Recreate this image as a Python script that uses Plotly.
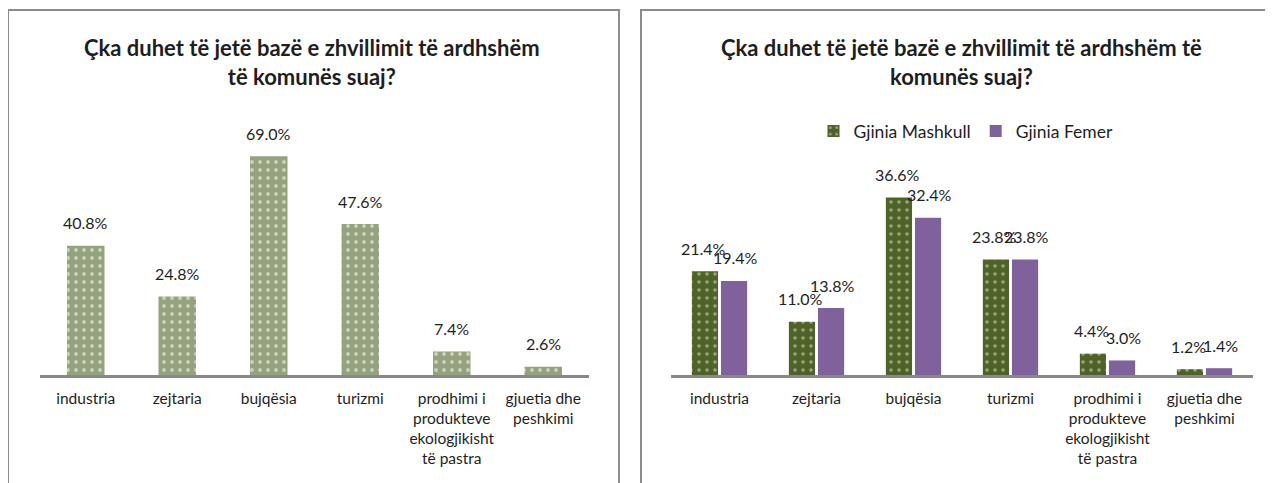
import plotly.graph_objects as go

# Categories and values
categories = [
    "industria",
    "zejtaria",
    "bujqësia",
    "turizmi",
    "prodhimi i<br>produkteve<br>ekologjikisht<br>të pastra",
    "gjuetia dhe<br>peshkimi",
]
total_pct = [40.8, 24.8, 69.0, 47.6, 7.4, 2.6]
male_pct = [21.4, 11.0, 36.6, 23.8, 4.4, 1.2]
female_pct = [19.4, 13.8, 32.4, 23.8, 3.0, 1.4]
series_names = ["Gjinia Mashkull", "Gjinia Femer"]

title_left = "<b>Çka duhet të jetë bazë e zhvillimit të ardhshëm<br>të komunës suaj?</b>"
title_right = "<b>Çka duhet të jetë bazë e zhvillimit të ardhshëm të<br>komunës suaj?</b>"

# the page body has an 8px margin, so the figure is drawn 8px smaller
OFF = 8
W, H = 1273 - OFF, 483 - OFF
FONT = "Lato, Carlito, Calibri, sans-serif"
TXT = "#1e1e1e"


def px_x(x):
    return (x - OFF) / W


def px_y(y):
    return (H - (y - OFF)) / H


fig = go.Figure()

# left chart: all answers (narrower bars than the grouped chart)
fig.add_trace(go.Bar(
    x=categories, y=total_pct, xaxis="x", yaxis="y", width=0.41,
    marker=dict(color="#95a27e", line=dict(width=0),
                pattern=dict(shape=".", bgcolor="#95a27e", fgcolor="#ffffff",
                             size=8, solidity=0.18)),
    showlegend=False, hoverinfo="skip",
))

# right chart: split by gender
fig.add_trace(go.Bar(
    x=categories, y=male_pct, xaxis="x2", yaxis="y2", name=series_names[0],
    marker=dict(color="#4f6228", line=dict(width=0),
                pattern=dict(shape=".", bgcolor="#4f6228", fgcolor="#e8ecdc",
                             size=8, solidity=0.15)),
    hoverinfo="skip",
))
fig.add_trace(go.Bar(
    x=categories, y=female_pct, xaxis="x2", yaxis="y2", name=series_names[1],
    marker=dict(color="#7f619c", line=dict(width=0)),
    hoverinfo="skip",
))

# value labels, placed above each bar
labels = []
lab_font = dict(size=16, color=TXT, family=FONT)
for c, v in zip(categories, total_pct):
    labels.append(dict(x=c, y=v, xref="x", yref="y", text=f"{v:.1f}%",
                       showarrow=False, yanchor="middle", yshift=23, font=lab_font))
for vals, shift in [(male_pct, -16), (female_pct, 16)]:
    for c, v in zip(categories, vals):
        labels.append(dict(x=c, y=v, xref="x2", yref="y2", text=f"{v:.1f}%",
                           showarrow=False, yanchor="middle", yshift=23,
                           xshift=shift, font=lab_font))

axis_common = dict(showline=True, linecolor="#888888", linewidth=3,
                   ticks="", showgrid=False, zeroline=False, ticklabelstandoff=7,
                   tickfont=dict(size=15.5, color=TXT, family=FONT))
yaxis_common = dict(visible=False, showgrid=False, zeroline=False)

base = px_y(375)
top = px_y(150)

fig.update_layout(
    width=W, height=H,
    margin=dict(l=0, r=0, t=0, b=0),
    paper_bgcolor="white", plot_bgcolor="white",
    font=dict(family=FONT, color=TXT),
    barmode="group",
    bargap=0.4,
    bargroupgap=0.1,
    xaxis=dict(domain=[px_x(40), px_x(589)], anchor="y", **axis_common),
    yaxis=dict(domain=[base, top], range=[0, 225 / 3.17], anchor="x", **yaxis_common),
    xaxis2=dict(domain=[px_x(671), px_x(1253)], anchor="y2", **axis_common),
    yaxis2=dict(domain=[base, top], range=[0, 225 / 4.85], anchor="x2", **yaxis_common),
    legend=dict(orientation="h", x=px_x(966), xanchor="center", y=px_y(131),
                yanchor="middle", font=dict(size=17.5, color=TXT, family=FONT),
                itemwidth=30, bgcolor="rgba(0,0,0,0)"),
    shapes=[
        dict(type="rect", xref="paper", yref="paper",
             x0=px_x(8), x1=px_x(619), y0=-0.05, y1=px_y(10),
             line=dict(color="#8c8c8c", width=2)),
        dict(type="rect", xref="paper", yref="paper",
             x0=px_x(641), x1=1.05, y0=-0.05, y1=px_y(10),
             line=dict(color="#8c8c8c", width=2)),
    ],
    annotations=labels + [
        dict(text=title_left, xref="paper", yref="paper", x=px_x(312), y=px_y(62),
             showarrow=False, xanchor="center", yanchor="middle",
             font=dict(size=22, color=TXT, family=FONT)),
        dict(text=title_right, xref="paper", yref="paper", x=px_x(961), y=px_y(62),
             showarrow=False, xanchor="center", yanchor="middle",
             font=dict(size=22, color=TXT, family=FONT)),
    ],
)

fig.write_html("out.html")
